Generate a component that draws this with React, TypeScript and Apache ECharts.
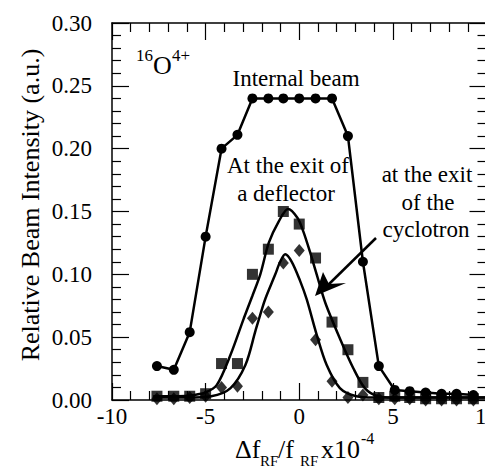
import React, { useEffect, useRef } from "react";
import * as echarts from "echarts";

// measurement positions (Δf/f x1e-4)
const stepX = [-7.6, -6.7, -5.85, -5.0, -4.15, -3.3, -2.5, -1.65, -0.85, 0.0, 0.87, 1.75, 2.6, 3.4, 4.25, 5.1, 5.9, 6.75, 7.6, 8.4, 9.3];
// Internal beam (circles)
const internalY = [0.027, 0.024, 0.054, 0.13, 0.2, 0.211, 0.24, 0.24, 0.24, 0.24, 0.24, 0.24, 0.21, 0.11, 0.027, 0.008, 0.007, 0.006, 0.005, 0.005, 0.004];
// At the exit of a deflector (squares)
const deflectorY = [0.003, 0.003, 0.003, 0.005, 0.029, 0.029, 0.1, 0.12, 0.15, 0.14, 0.113, 0.062, 0.04, 0.014, 0.002, 0.003, 0.002, 0.001, 0.001, 0.001, 0.001];
// At the exit of the cyclotron (diamonds)
const cyclotronY = [0.001, 0.001, 0.002, 0.003, 0.01, 0.011, 0.065, 0.07, 0.109, 0.119, 0.048, 0.015, 0.002, 0.004, 0.001, 0.001, 0.001, 0.0, 0.0, 0.0, 0.0];

// fitted curves
const deflectorFitX = [-7.8, -6.5, -5.6, -5.0, -4.4, -3.67, -2.96, -2.5, -2.08, -1.63, -1.1, -0.6, -0.1, 0.22, 0.57, 0.93, 1.4, 2.17, 2.88, 3.5, 4.2, 5.0, 6.5, 8.0, 10.0];
const deflectorFitY = [0.003, 0.003, 0.004, 0.006, 0.012, 0.036, 0.065, 0.083, 0.1, 0.125, 0.142, 0.152, 0.145, 0.134, 0.118, 0.1, 0.077, 0.049, 0.0255, 0.0095, 0.003, 0.002, 0.002, 0.002, 0.002];
const cyclotronFitX = [-7.8, -6.0, -4.7, -3.67, -2.87, -2.34, -1.98, -1.8, -1.28, -1.02, -0.75, -0.4, 0.04, 0.4, 0.93, 1.46, 2.17, 3.05, 4.0, 5.5, 7.0, 8.5, 10.0];
const cyclotronFitY = [0.002, 0.002, 0.003, 0.0095, 0.028, 0.055, 0.073, 0.081, 0.1, 0.11, 0.116, 0.11, 0.095, 0.08, 0.052, 0.028, 0.0095, 0.003, 0.002, 0.002, 0.002, 0.002, 0.002];

const xTicks = { min: -10, max: 10, interval: 5 };
const yTicks = { min: 0, max: 0.3, interval: 0.05 };

const FONT = "'Liberation Serif', 'Times New Roman', 'DejaVu Serif', serif";

function zip(xs: number[], ys: number[]) {
  return xs.map((x, i) => [x, ys[i]]);
}

function txt(text: string, x: number, y: number, size: number, align = "center", extra: any = {}, styleExtra: any = {}) {
  return {
    type: "text", x, y, ...extra,
    style: { text, fontFamily: FONT, fontSize: size, fill: "#000", align, verticalAlign: "middle", ...styleExtra },
  };
}

export default function App() {
  const ref = useRef<HTMLDivElement>(null);
  useEffect(() => {
    if (!ref.current) return;
    const chart = echarts.init(ref.current, undefined, { renderer: "svg" });
    const axisCommon = {
      axisLine: { show: true, onZero: false, lineStyle: { color: "#000", width: 1.5 } },
      axisTick: { show: true, inside: true, length: 17, lineStyle: { color: "#000", width: 1.2 } },
      minorTick: { show: true, splitNumber: 5, length: 9, lineStyle: { color: "#000", width: 1.2 } },
      splitLine: { show: false },
      minorSplitLine: { show: false },
    };
    const labelStyle = { color: "#000", fontFamily: FONT, fontSize: 23 };
    chart.setOption({
      animation: false,
      backgroundColor: "#fff",
      grid: { left: 104, right: 12, top: 15, bottom: 74, containLabel: false },
      xAxis: [
        {
          type: "value", position: "bottom", ...xTicks, ...axisCommon,
          axisLabel: { ...labelStyle, margin: 5 },
        },
        {
          type: "value", position: "top", ...xTicks, ...axisCommon,
          axisLabel: { show: false },
        },
      ],
      yAxis: [
        {
          type: "value", position: "left", ...yTicks, ...axisCommon,
          axisLabel: { ...labelStyle, margin: 20, formatter: (v: number) => v.toFixed(2) },
        },
        {
          type: "value", position: "right", ...yTicks, ...axisCommon,
          axisLabel: { show: false },
        },
      ],
      series: [
        {
          type: "line", data: zip(deflectorFitX, deflectorFitY), smooth: 0.3,
          showSymbol: false, symbol: "none",
          lineStyle: { color: "#000", width: 2.5 }, z: 2,
        },
        {
          type: "line", data: zip(cyclotronFitX, cyclotronFitY), smooth: 0.3,
          showSymbol: false, symbol: "none",
          lineStyle: { color: "#000", width: 2.5 }, z: 2,
        },
        {
          type: "line", data: zip(stepX, internalY),
          symbol: "circle", symbolSize: 10,
          lineStyle: { color: "#000", width: 2.5 },
          itemStyle: { color: "#000" }, z: 3,
        },
        {
          type: "scatter", data: zip(stepX, deflectorY),
          symbol: "rect", symbolSize: 11,
          itemStyle: { color: "#000" }, z: 4,
        },
        {
          type: "scatter", data: zip(stepX, cyclotronY),
          symbol: "diamond", symbolSize: [11, 13],
          itemStyle: { color: "#000" }, z: 4,
        },
      ],
      graphic: [
        // y axis title
        txt("Relative Beam Intensity (a.u.)", 22, 197, 26, "center", { rotation: Math.PI / 2 }),
        // 16O4+
        txt("16", 128, 47, 17, "left"),
        txt("O", 145, 57, 26, "left"),
        txt("4+", 164, 47, 17, "left"),
        txt("Internal beam", 288, 70, 23),
        txt("At the exit of", 280, 157, 23),
        txt("a deflector", 278, 185, 23),
        txt("at the exit", 419, 166, 23),
        txt("of the", 420, 194, 23),
        txt("cyclotron", 418, 221, 23),
        // arrow
        { type: "line", shape: { x1: 368, y1: 230, x2: 318, y2: 279 }, style: { stroke: "#000", lineWidth: 2.5 } },
        { type: "polygon", shape: { points: [[307, 288], [315, 264], [321, 276], [338, 275]] }, style: { fill: "#000" } },
        // x axis title
        txt("Δf", 227, 441, 26, "left"),
        txt("RF", 252, 453, 15, "left", {}, { lineHeight: 12 }),
        txt("/f", 270, 441, 26, "left"),
        txt("RF", 292, 453, 15, "left", {}, { lineHeight: 12 }),
        txt("x10", 313, 441, 26, "left"),
        txt("-4", 353, 430, 16, "left"),
      ],
    });
    return () => chart.dispose();
  }, []);
  return <div ref={ref} style={{ width: 493, height: 466 }} />;
}
